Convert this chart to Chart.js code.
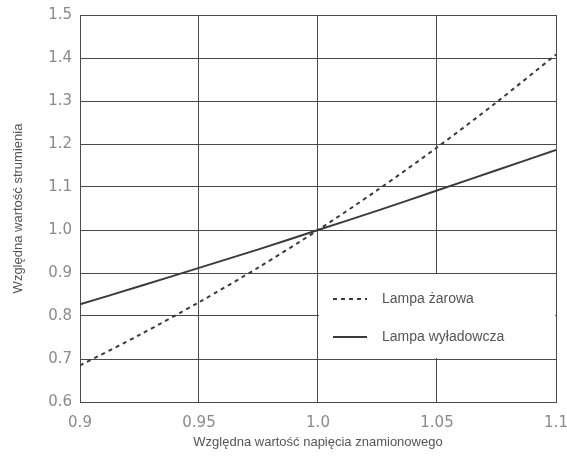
<!DOCTYPE html>
<html>
<head>
<meta charset="utf-8">
<script src="https://cdn.jsdelivr.net/npm/chart.js@4"></script>
<style>
    html, body { margin: 0; padding: 0; background: #fff; }
    #wrap { width: 567px; height: 456px; }
</style>
</head>
<body>
<div id="wrap"><canvas id="chart"></canvas></div>
<script>
// Dane
const napiecie = [0.9, 0.925, 0.95, 0.975, 1.0, 1.025, 1.05, 1.075, 1.1];
const lampaZarowa = [0.685, 0.756, 0.832, 0.913, 1.0, 1.093, 1.192, 1.297, 1.408];
const lampaWyladowcza = [0.827, 0.869, 0.912, 0.955, 1.0, 1.045, 1.092, 1.139, 1.186];

const xTickValues = [0.9, 0.95, 1.0, 1.05, 1.1];
const xTickLabels = ['0.9', '0.95', '1.0', '1.05', '1.1'];
const yTickValues = [0.6, 0.7, 0.8, 0.9, 1.0, 1.1, 1.2, 1.3, 1.4, 1.5];
const yTickLabels = ['0.6', '0.7', '0.8', '0.9', '1.0', '1.1', '1.2', '1.3', '1.4', '1.5'];

const seriesNames = ['Lampa żarowa', 'Lampa wyładowcza'];

const LINE_COLOR = '#3a3a3a';
const GRID_COLOR = '#4a4a4a';

const toPoints = (ys) => napiecie.map((x, i) => ({ x: x, y: ys[i] }));

/**
 * Legenda w polu [1.0 - 1.1] x [0.7 - 0.9], zakrywa siatkę
 */
const legendBox = {
    id: 'legendBox',
    beforeDatasetsDraw(chart) {
        const { ctx, scales: { x, y } } = chart;
        const left = x.getPixelForValue(1.0);
        const right = x.getPixelForValue(1.1);
        const top = y.getPixelForValue(0.9);
        const bottom = y.getPixelForValue(0.7);

        ctx.save();
        ctx.fillStyle = '#fff';
        ctx.fillRect(left + 1, top + 1, right - left - 2, bottom - top - 2);

        ctx.font = '14px "Liberation Sans", Arial, sans-serif';
        ctx.textBaseline = 'middle';
        chart.data.datasets.forEach((ds, i) => {
            const rowY = top + 26 + i * 38;
            ctx.strokeStyle = ds.borderColor;
            ctx.lineWidth = 2;
            ctx.setLineDash(ds.borderDash || []);
            ctx.beginPath();
            ctx.moveTo(left + 15, rowY);
            ctx.lineTo(left + 49, rowY);
            ctx.stroke();
            ctx.setLineDash([]);
            ctx.fillStyle = '#555';
            ctx.fillText(ds.label, left + 64, rowY);
        });
        ctx.restore();
    }
};

new Chart(document.getElementById('chart').getContext('2d'), {
    type: 'line',
    data: {
        datasets: [
            {
                label: seriesNames[0],
                data: toPoints(lampaZarowa),
                borderColor: LINE_COLOR,
                borderWidth: 2,
                borderDash: [4, 4],
                pointRadius: 0,
                tension: 0.3
            },
            {
                label: seriesNames[1],
                data: toPoints(lampaWyladowcza),
                borderColor: LINE_COLOR,
                borderWidth: 2,
                pointRadius: 0,
                tension: 0.3
            }
        ]
    },
    options: {
        responsive: true,
        maintainAspectRatio: false,
        animation: false,
        layout: { padding: { top: 15, right: 11, left: 0, bottom: 0 } },
        plugins: {
            legend: { display: false },
            tooltip: { enabled: false }
        },
        scales: {
            x: {
                type: 'linear',
                min: 0.9,
                max: 1.1,
                afterBuildTicks: (scale) => { scale.ticks = xTickValues.map(v => ({ value: v })); },
                afterFit: (scale) => {
                    scale.height = 54;
                    scale.paddingLeft = 0;
                    scale.paddingRight = 0;
                },
                grid: { color: GRID_COLOR, drawTicks: false },
                border: { color: GRID_COLOR },
                ticks: {
                    padding: 12,
                    color: '#8a8a8a',
                    maxRotation: 0,
                    font: { size: 15, family: '"DejaVu Sans", sans-serif' },
                    callback: (v, i) => xTickLabels[i]
                },
                title: {
                    display: true,
                    text: 'Względna wartość napięcia znamionowego',
                    color: '#555',
                    padding: { top: 4, bottom: 6 },
                    font: { size: 13, family: '"Liberation Sans", Arial, sans-serif' }
                }
            },
            y: {
                type: 'linear',
                min: 0.6,
                max: 1.5,
                afterBuildTicks: (scale) => { scale.ticks = yTickValues.map(v => ({ value: v })); },
                afterFit: (scale) => {
                    scale.width = 80;
                    scale.paddingTop = 0;
                    scale.paddingBottom = 0;
                },
                grid: { color: GRID_COLOR, drawTicks: false },
                border: { color: GRID_COLOR },
                ticks: {
                    padding: 8,
                    color: '#8a8a8a',
                    font: { size: 15, family: '"DejaVu Sans", sans-serif' },
                    callback: (v, i) => yTickLabels[i]
                },
                title: {
                    display: true,
                    text: 'Względna wartość strumienia',
                    color: '#555',
                    padding: { top: 11 },
                    font: { size: 13, family: '"Liberation Sans", Arial, sans-serif' }
                }
            }
        }
    },
    plugins: [legendBox]
});
</script>
</body>
</html>
